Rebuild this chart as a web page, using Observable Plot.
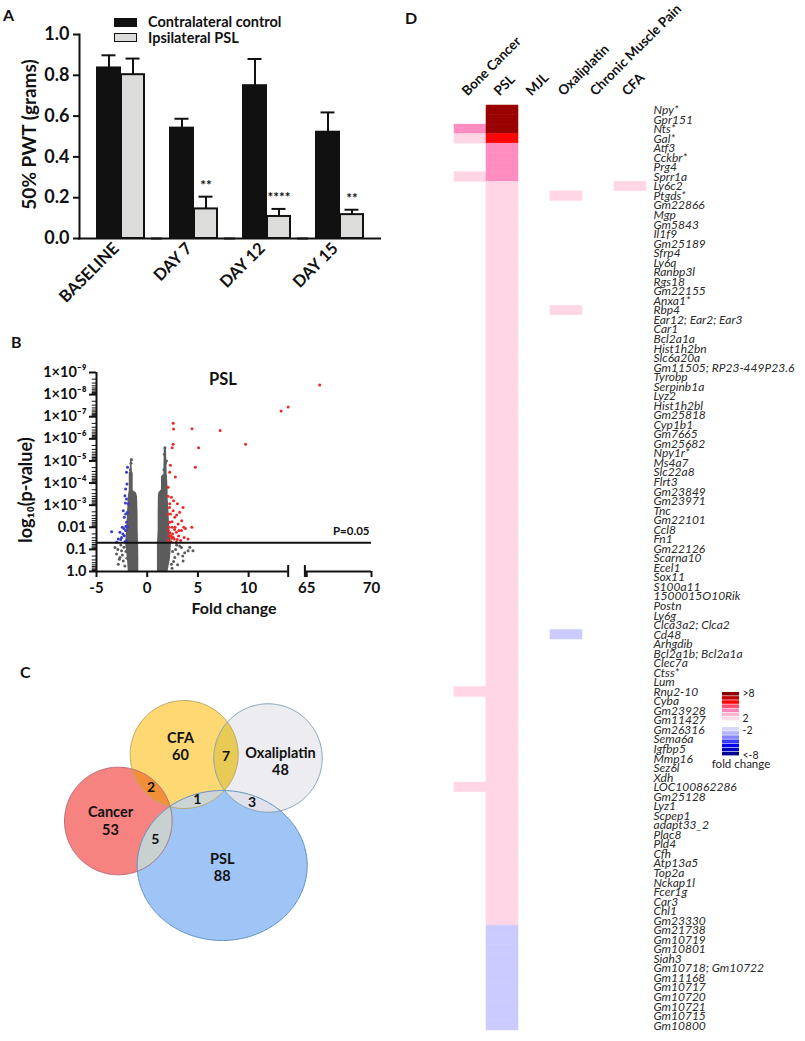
<!DOCTYPE html>
<html><head><meta charset="utf-8">
<script src="https://cdn.jsdelivr.net/npm/d3@7"></script>
<script src="https://cdn.jsdelivr.net/npm/@observablehq/plot@0.6"></script>
<style>
body{margin:0;background:#fff;}
#fig{position:relative;width:805px;height:1041px;overflow:hidden;background:#fff;font-family:Lato,"Open Sans",sans-serif;color:#111;}
.panel{position:absolute;}
.panel svg{overflow:visible;}
.letter{position:absolute;font-weight:bold;font-size:16px;line-height:16px;}
.lg{position:absolute;font-weight:bold;font-size:14.5px;line-height:16px;white-space:nowrap;}
.sw{position:absolute;width:23px;height:9px;box-sizing:border-box;}
</style></head><body><div id="fig"></div>
<script>
// ---------- Panel A data ----------
const groups = ["BASELINE", "DAY 7", "DAY 12", "DAY 15"];
const seriesNames = ["Contralateral control", "Ipsilateral PSL"];
const controlMean = [0.836, 0.541, 0.749, 0.521];
const controlSem = [0.062, 0.046, 0.131, 0.097];
const pslMean = [0.803, 0.145, 0.108, 0.117];
const pslSem = [0.079, 0.060, 0.037, 0.024];
const pslStars = ["", "**", "****", "**"];
const pwtTicks = [0, 0.2, 0.4, 0.6, 0.8, 1.0];

// ---------- Panel B data ----------
const xTicksB = [-5, 0, 5, 10, 65, 70];
const yTicksB = [0, 1, 2, 3, 4, 5, 6, 7, 8, 9];
const yTickLabelsB = ["1.0", "0.1", "0.01", "1×10⁻³", "1×10⁻⁴", "1×10⁻⁵", "1×10⁻⁶", "1×10⁻⁷", "1×10⁻⁸", "1×10⁻⁹"];
const pThreshold = 0.05;
// [fold change, -log10 p]
const redPoints = [[66.0,8.43],[13.2,7.26],[13.9,7.44],[7.2,6.38],[4.42,6.46],[9.7,5.75],[5.07,5.6],[4.75,4.72],[2.56,6.71],[2.6,6.44],[2.56,5.75],[2.46,5.6],[2.29,4.8],[2.22,4.49],[2.78,4.27],[2.06,3.81],[2.39,3.36],[3.54,2.9],[3.2,2.68],[3.77,1.95],[3.14,1.85],[3.64,1.54],[4.03,1.47],[2.88,1.32],[2.22,3.06],[2.56,2.75],[2.72,2.45],[2.22,2.23],[2.46,2.0],[2.88,1.77],[2.32,1.62],[2.65,1.47],[3.05,2.15],[2.06,2.6],[2.98,3.06],[3.38,1.85],[2.1,1.85],[2.5,1.7],[3.1,1.6],[2.05,1.4],[2.35,1.35],[2.75,2.0],[3.4,2.3],[2.2,2.9],[2.6,3.2],[2.15,2.0],[2.4,1.5],[2.9,2.55],[3.3,1.4],[2.05,3.4],[2.3,2.6],[2.15,1.6],[2.45,2.25],[3.6,2.0],[2.7,1.9],[4.4,2.0],[2.25,1.75],[2.55,1.55],[2.95,1.45]];
const bluePoints = [[-1.94,4.72],[-2.04,4.49],[-2.13,3.73],[-2.2,3.43],[-2.36,2.75],[-2.13,2.6],[-2.26,2.45],[-2.04,2.23],[-2.46,2.0],[-2.69,1.77],[-3.51,1.8],[-2.53,1.54],[-2.26,1.62],[-2.04,1.39],[-1.87,3.06],[-2.04,3.28],[-2.13,1.85],[-2.85,1.47],[-3.02,1.32],[-1.94,2.68],[-2.0,3.96],[-2.3,1.95],[-2.6,1.45],[-2.1,2.05],[-2.4,1.7],[-2.2,1.35],[-1.95,2.0],[-2.15,3.1]];
const grayPoints = [[-3.18,1.09],[-3.02,0.79],[-2.69,0.63],[-2.53,0.94],[-2.36,0.48],[-2.85,0.33],[-2.2,0.25],[-2.45,0.75],[-2.9,1.0],[-2.3,1.1],[-2.6,1.2],[-2.1,0.9],[-2.75,0.55],[-2.0,0.6],[3.38,1.09],[4.03,0.94],[4.52,0.94],[3.05,0.79],[2.72,0.63],[3.54,0.48],[2.39,0.33],[2.8,1.0],[3.7,0.85],[2.5,0.9],[3.2,1.15],[2.6,0.45],[3.0,0.3],[2.45,0.15],[2.9,1.2],[4.2,1.1],[3.5,0.7],[-1.6,4.9],[-1.55,5.05],[-1.65,4.6],[1.75,5.6],[1.7,5.3],[1.8,4.9],[1.65,4.6],[1.9,5.0]];
// dense non-significant clouds: outline [ -log10 p, fold low, fold high ]
const leftCloud = [[0,-1.87,-0.83],[0.6,-1.95,-0.83],[1.24,-2.13,-0.85],[1.85,-2.04,-0.89],[2.6,-1.94,-0.9],[3.36,-1.87,-0.95],[3.55,-1.81,-1.05],[3.65,-1.77,-1.38],[4.42,-1.77,-1.38],[4.55,-1.67,-1.48],[5.1,-1.63,-1.52]];
const rightCloud = [[0,1.01,2.06],[0.6,1.01,2.3],[1.24,1.01,2.39],[1.85,1.08,2.22],[2.6,1.08,2.16],[3.36,1.1,2.06],[3.55,1.14,2.06],[3.7,1.41,2.06],[4.27,1.41,2.0],[4.4,1.64,1.97],[5.6,1.68,1.9]];

// ---------- Panel C data ----------
const vennSets = ["CFA", "Oxaliplatin", "Cancer", "PSL"];
const vennCounts = [60, 48, 53, 88];
const vennPairs = [["CFA","Cancer"],["CFA","Oxaliplatin"],["CFA","PSL"],["Oxaliplatin","PSL"],["Cancer","PSL"]];
const vennPairCounts = [2, 7, 1, 3, 5];

// ---------- Panel D data ----------
const conditions = ["Bone Cancer", "PSL", "MJL", "Oxaliplatin", "Chronic Muscle Pain", "CFA"];
const genes = ["Npy*","Gpr151","Nts*","Gal*","Atf3","Cckbr*","Prg4","Sprr1a","Ly6c2","Ptgds*",
"Gm22866","Mgp","Gm5843","Il1f9","Gm25189","Sfrp4","Ly6a","Ranbp3l","Rgs18","Gm22155",
"Anxa1*","Rbp4","Ear12; Ear2; Ear3","Car1","Bcl2a1a","Hist1h2bn","Slc6a20a","Gm11505; RP23-449P23.6","Tyrobp","Serpinb1a",
"Lyz2","Hist1h2bl","Gm25818","Cyp1b1","Gm7665","Gm25682","Npy1r*","Ms4a7","Slc22a8","Flrt3",
"Gm23849","Gm23971","Tnc","Gm22101","Ccl8","Fn1","Gm22126","Scarna10","Ecel1","Sox11",
"S100a11","1500015O10Rik","Postn","Ly6g","Clca3a2; Clca2","Cd48","Arhgdib","Bcl2a1b; Bcl2a1a","Clec7a","Ctss*",
"Lum","Rnu2-10","Cyba","Gm23928","Gm11427","Gm26316","Sema6a","Igfbp5","Mmp16","Sez6l",
"Xdh","LOC100862286","Gm25128","Lyz1","Scpep1","adapt33_2","Plac8","Pld4","Cfh","Atp13a5",
"Top2a","Nckap1l","Fcer1g","Car3","Chl1","Gm23330","Gm21738","Gm10719","Gm10801","Siah3",
"Gm10718; Gm10722","Gm11168","Gm10717","Gm10720","Gm10721","Gm10715","Gm10800"];
const pslFold = [10,10,10,6,3,3,3,3,2,2,
2,2,2,2,2,2,2,2,2,2,
2,2,2,2,2,2,2,2,2,2,
2,2,2,2,2,2,2,2,2,2,
2,2,2,2,2,2,2,2,2,2,
2,2,2,2,2,2,2,2,2,2,
2,2,2,2,2,2,2,2,2,2,
2,2,2,2,2,2,2,2,2,2,
2,2,2,2,2,2,-2,-2,-2,-2,
-2,-2,-2,-2,-2,-2,-2];
const boneCancerFold = [["Nts*",3],["Gal*",2],["Sprr1a",2],["Rnu2-10",2],["LOC100862286",2]];
const oxaliplatinFold = [["Ptgds*",2],["Rbp4",2],["Cd48",-2]];
const cfaFold = [["Ly6c2",2]];
const legendSteps = [8,7,6,5,4,3,2,-2,-3,-4,-5,-6,-7,-8];
const legendLabels = [[8,">8"],[2,"2"],[-2,"-2"],[-8,"<-8"]];

// ---------- helpers ----------
const fig = document.getElementById("fig");
function place(node, left, top) {
  const d = document.createElement("div");
  d.className = "panel"; d.style.left = left + "px"; d.style.top = top + "px";
  d.appendChild(node); fig.appendChild(d);
}
function html(cls, text, left, top, extra = {}) {
  const d = document.createElement("div");
  d.className = cls; d.textContent = text;
  d.style.left = left + "px"; d.style.top = top + "px";
  Object.assign(d.style, extra); fig.appendChild(d);
}
const FONT = "Lato, 'Open Sans', sans-serif";

// ---------- Panel A ----------
const pwt = groups.flatMap((g, i) => [
  {group: g, series: seriesNames[0], mean: controlMean[i], sem: controlSem[i], stars: ""},
  {group: g, series: seriesNames[1], mean: pslMean[i], sem: pslSem[i], stars: pslStars[i]}
]);
const plotA = Plot.plot({
  width: 400, height: 330, marginLeft: 78, marginRight: 28, marginTop: 34, marginBottom: 92,
  style: {fontFamily: FONT, fontWeight: "bold", fontSize: "18px", color: "#111", background: "transparent"},
  fx: {domain: groups, paddingInner: 0, paddingOuter: 0, axis: null, label: null},
  x: {domain: seriesNames, paddingInner: 0.04, paddingOuter: 0.49, align: 0.694, axis: null},
  y: {domain: [0, 1], axis: null},
  color: {domain: seriesNames, range: ["#111111", "#dcdddb"]},
  marks: [
    Plot.ruleX(pwt, {fx: "group", x: "series", y1: "mean", y2: d => d.mean + d.sem, stroke: "#111", strokeWidth: 2}),
    Plot.tickY(pwt, {fx: "group", x: "series", y: d => d.mean + d.sem, stroke: "#111", strokeWidth: 2, insetLeft: 4.5, insetRight: 4.5}),
    Plot.barY(pwt, {fx: "group", x: "series", y: "mean", fill: "series", stroke: "#111", strokeWidth: 2}),
    Plot.text(pwt, {fx: "group", x: "series", y: d => d.mean + d.sem, text: "stars", dy: -11, fontSize: 13.5}),
    Plot.ruleY([0], {stroke: "#111", strokeWidth: 2, insetLeft: -1, insetRight: -10}),
    Plot.frame({anchor: "left", facetAnchor: "left", stroke: "#111", strokeWidth: 2}),
    Plot.axisY(pwtTicks, {tickFormat: d3.format(".1f"), tickSize: 6, tickPadding: 4, strokeWidth: 2, fontSize: 18, label: null}),
    Plot.text(groups, {fx: d => d, text: d => d, frameAnchor: "bottom", rotate: -45, textAnchor: "end", dx: 4, dy: 11, fontSize: 16.5}),
    Plot.text(["50% PWT (grams)"], {frameAnchor: "left", facetAnchor: "left", textAnchor: "middle", rotate: -90, dx: -50, dy: -2, fontSize: 19})
  ]
});
place(plotA, 0, 0);
// legend of panel A
html("sw", "", 114, 18, {background: "#111"});
html("sw", "", 114, 33, {background: "#dcdddb", border: "1.5px solid #111"});
html("lg", seriesNames[0], 148, 14);
html("lg", seriesNames[1], 148, 30);

// ---------- Panel B ----------
const brk = v => v > 40 ? 15.73 + (v - 65) * 1.278 : v;
const xTickPosB = xTicksB.map(brk);
const xLabelAt = new Map(xTickPosB.map((p, i) => [p, String(xTicksB[i])]));
const minorB = yTicksB.slice(0, 9).flatMap(d => [2,3,4,5,6,7,8,9].map(k => d + 1 - Math.log10(k)));
const plotB = Plot.plot({
  width: 400, height: 300, marginLeft: 96, marginRight: 29, marginTop: 42, marginBottom: 59,
  style: {fontFamily: FONT, fontWeight: "bold", fontSize: "15px", color: "#111", background: "transparent"},
  x: {domain: [-5, 22.12], axis: null},
  y: {domain: [0, 9], axis: null},
  marks: [
    Plot.areaX(leftCloud, {y: d => d[0], x1: d => d[1], x2: d => d[2], fill: "#5c5c5c"}),
    Plot.areaX(rightCloud, {y: d => d[0], x1: d => d[1], x2: d => d[2], fill: "#5c5c5c"}),
    Plot.dot(grayPoints, {x: d => brk(d[0]), y: d => d[1], r: 1.5, fill: "#5c5c5c"}),
    Plot.dot(bluePoints, {x: d => brk(d[0]), y: d => d[1], r: 1.5, fill: "#3a3ad0"}),
    Plot.dot(redPoints, {x: d => brk(d[0]), y: d => d[1], r: 1.5, fill: "#ea2a2a"}),
    Plot.ruleY([-Math.log10(pThreshold)], {x1: -5, x2: 22.12, stroke: "#111", strokeWidth: 2}),
    Plot.text(["P=0.05"], {x: 22.12, y: -Math.log10(pThreshold), dy: -11, dx: -2, textAnchor: "end", fontSize: 11.5}),
    Plot.ruleY([0], {x1: -5, x2: 13.9, stroke: "#111", strokeWidth: 2}),
    Plot.ruleY([0], {x1: 15.55, x2: 22.12, stroke: "#111", strokeWidth: 2}),
    Plot.ruleX([13.9, 15.55], {y1: -0.27, y2: 0.27, stroke: "#111", strokeWidth: 2}),
    Plot.ruleX([-5], {y1: 0, y2: 9, stroke: "#111", strokeWidth: 2}),
    Plot.ruleY(minorB, {x1: -5.42, x2: -5, stroke: "#111", strokeWidth: 1}),
    Plot.axisX(xTickPosB, {tickFormat: d => xLabelAt.get(d), tickSize: 6, tickPadding: 5, strokeWidth: 2, fontSize: 15, label: null}),
    Plot.axisY(yTicksB, {tickFormat: d => yTickLabelsB[d], tickSize: 7, tickPadding: 3, strokeWidth: 2, fontSize: 14.5, label: null}),
    Plot.text(["PSL"], {frameAnchor: "top", dx: -11, dy: 1, fontSize: 16.5}),
    Plot.text(["Fold change"], {frameAnchor: "bottom", dy: 42, fontSize: 16}),
    Plot.text(["log₁₀(p-value)"], {frameAnchor: "left", textAnchor: "middle", rotate: -90, dx: -70, dy: 18, fontSize: 18})
  ]
});
place(plotB, 0, 330);

// ---------- Panel C ----------
// layout of the diagram (page pixel coordinates)
const vennLayout = {
  CFA: {cx: 183.7, cy: 754, rx: 54, ry: 54, lx: 180, ly: 745.5, fill: "#fdd873", stroke: "#b7a667"},
  Oxaliplatin: {cx: 267.5, cy: 757.5, rx: 54.2, ry: 54.2, lx: 280, ly: 760.5, fill: "#edecf1", stroke: "#7f9fb7"},
  Cancer: {cx: 117.8, cy: 820.5, rx: 53.8, ry: 53.8, lx: 110, ly: 820, fill: "#f6837f", stroke: "#b46a7a"},
  PSL: {cx: 221.7, cy: 865, rx: 85, ry: 75, lx: 221.7, ly: 866.5, fill: "#9fc5f6", stroke: "#5f8fc4"}
};
const lensFill = ["#f28f38", "#e8ca55", "#cdd5d4", "#dfe2ea", "#c9d0d0"];
const outline = s => d3.range(360).map(i => { const t = 2 * Math.PI * i / 360; return [s.cx + s.rx * Math.cos(t), s.cy + s.ry * Math.sin(t)]; });
const inside = (s, [x, y]) => ((x - s.cx) / s.rx) ** 2 + ((y - s.cy) / s.ry) ** 2 < 1;
function arcInside(a, b) {
  const pts = outline(a), n = pts.length;
  const start = pts.findIndex((p, i) => !inside(b, p) && inside(b, pts[(i + 1) % n]));
  const out = [];
  for (let k = 1; k <= n; k++) { const p = pts[(start + k) % n]; if (inside(b, p)) out.push(p); else break; }
  return out;
}
const lenses = vennPairs.map(([a, b], i) => {
  const poly = [...arcInside(vennLayout[a], vennLayout[b]), ...arcInside(vennLayout[b], vennLayout[a])];
  return {poly, count: vennPairCounts[i], fill: lensFill[i], c: d3.polygonCentroid(poly)};
});
const setShapes = vennSets.map((s, i) => ({name: s, count: vennCounts[i], ...vennLayout[s], poly: outline(vennLayout[s])}));
const drawOrder = ["Cancer", "CFA", "Oxaliplatin", "PSL"].map(n => setShapes.find(s => s.name === n));
const plotC = Plot.plot({
  width: 400, height: 330, margin: 0,
  style: {fontFamily: FONT, fontWeight: "bold", fontSize: "14px", color: "#111", background: "transparent"},
  x: {domain: [0, 400], axis: null},
  y: {domain: [960, 630], axis: null},
  marks: [
    ...drawOrder.map(s => Plot.line(s.poly, {x: d => d[0], y: d => d[1], fill: s.fill, stroke: "none", curve: "linear-closed"})),
    ...lenses.map(l => Plot.line(l.poly, {x: d => d[0], y: d => d[1], fill: l.fill, stroke: "none", curve: "linear-closed"})),
    ...drawOrder.map(s => Plot.line(s.poly, {x: d => d[0], y: d => d[1], fill: "none", stroke: s.stroke, strokeWidth: 1, curve: "linear-closed"})),
    Plot.text(setShapes, {x: "lx", y: "ly", text: d => `${d.name}\n${d.count}`, lineHeight: 1.2, fontSize: 14.5}),
    Plot.text(lenses, {x: d => d.c[0], y: d => d.c[1], text: "count", fontSize: 14})
  ]
});
place(plotC, 0, 630);

// ---------- Panel D ----------
const cells = [
  ...boneCancerFold.map(([g, v]) => ({condition: "Bone Cancer", gene: g, fold: v})),
  ...pslFold.map((v, i) => ({condition: "PSL", gene: genes[i], fold: v})),
  ...oxaliplatinFold.map(([g, v]) => ({condition: "Oxaliplatin", gene: g, fold: v})),
  ...cfaFold.map(([g, v]) => ({condition: "CFA", gene: g, fold: v}))
];
const plotD = Plot.plot({
  width: 405, height: 1041, marginLeft: 54, marginRight: 159, marginTop: 105, marginBottom: 11,
  style: {fontFamily: FONT, fontSize: "12px", color: "#222", background: "transparent"},
  x: {domain: conditions, padding: 0, axis: null},
  y: {domain: genes, padding: 0, axis: null},
  color: {type: "threshold", domain: [-8, -4, -2.5, 0, 2.5, 4, 8],
          range: ["#000099", "#0000ff", "#9999ff", "#cccbff", "#ffd6e6", "#ff8dc0", "#ff0505", "#990000"]},
  marks: [
    Plot.cell(cells, {x: "condition", y: "gene", fill: "fold", stroke: "fold", strokeWidth: 0.5}),
    Plot.text(genes, {y: d => d, frameAnchor: "right", textAnchor: "start", dx: 7, fontStyle: "italic", fontSize: 12, fill: "#2a2a2a"}),
    Plot.text(conditions, {x: d => d, frameAnchor: "top", textAnchor: "start", lineAnchor: "bottom", rotate: -45, dx: -3, dy: -9, fontWeight: "bold", fontSize: 13.5, fill: "#111"})
  ]
});
place(plotD, 400, 0);

// legend of panel D
const legendPos = v => legendSteps.indexOf(v) + (v < 0 ? 1.5 : 0);
const plotLeg = Plot.plot({
  width: 90, height: 95, marginLeft: 22, marginRight: 51, marginTop: 12, marginBottom: 19,
  style: {fontFamily: FONT, fontSize: "11px", color: "#222", background: "transparent"},
  x: {domain: [0, 1], axis: null},
  y: {domain: [15.5, 0], axis: null},
  color: {type: "ordinal", domain: legendSteps,
          range: ["#8a0000", "#c00000", "#ff0000", "#ff4a6a", "#ff85b8", "#ffb3d3", "#ffdbe9",
                  "#d6d6ff", "#b3b3ff", "#8585ff", "#3a3aff", "#0000f0", "#0000c4", "#000090"]},
  marks: [
    Plot.rect(legendSteps, {x1: 0, x2: 1, y1: d => legendPos(d), y2: d => legendPos(d) + 1, fill: d => d, insetBottom: 0.6}),
    Plot.text(legendLabels, {x: 1, y: d => legendPos(d[0]) + (d[0] > 0 ? 0.3 : 0.7), text: d => d[1], textAnchor: "start", dx: 3, fontSize: 10.5}),
    Plot.text(["fold change"], {frameAnchor: "bottom", dx: 10, dy: 11, fontSize: 11.5})
  ]
});
place(plotLeg, 700, 680);

// panel letters
html("letter", "A", 3, 7);
html("letter", "B", 11, 334);
html("letter", "C", 20, 664);
html("letter", "D", 405, 10);
</script></body></html>
